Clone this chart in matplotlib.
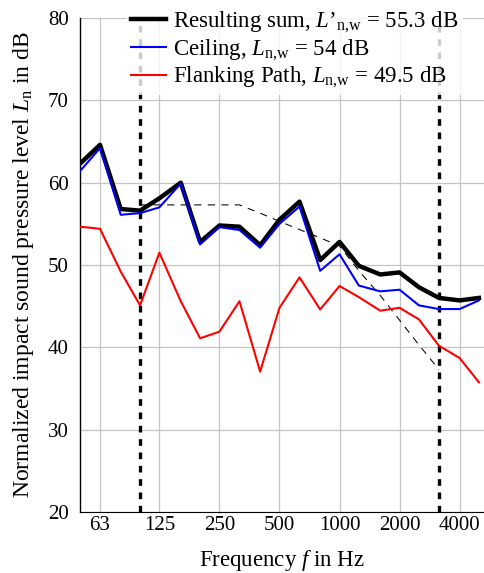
import matplotlib
matplotlib.use("Agg")
import matplotlib.pyplot as plt

plt.rcParams['font.family'] = ['Liberation Serif', 'DejaVu Serif']
plt.rcParams['mathtext.fontset'] = 'custom'
plt.rcParams['mathtext.rm'] = 'Liberation Serif'
plt.rcParams['mathtext.it'] = 'Liberation Serif:italic'

# third-octave bands
freqs = [50, 63, 80, 100, 125, 160, 200, 250, 315, 400, 500, 630, 800,
         1000, 1250, 1600, 2000, 2500, 3150, 4000, 5000]
total = [62.3, 64.6, 56.8, 56.6, 58.1, 60.0, 52.8, 54.8, 54.65, 52.4, 55.5,
         57.7, 50.6, 52.8, 49.9, 48.85, 49.1, 47.3, 46.0, 45.7, 46.0]
ceiling = [61.4, 64.2, 56.1, 56.3, 57.0, 59.9, 52.5, 54.6, 54.25, 52.1, 55.0,
           57.1, 49.3, 51.3, 47.5, 46.8, 47.0, 45.1, 44.65, 44.65, 45.7]
flanking = [54.65, 54.4, 49.2, 45.1, 51.5, 45.6, 41.1, 41.9, 45.6, 37.05, 44.8,
            48.5, 44.6, 47.45, 46.1, 44.45, 44.8, 43.4, 40.2, 38.7, 35.75]

# ISO 717-2 reference curve, shifted to L'n,w = 55.3 dB
ref_freqs = [100, 125, 160, 200, 250, 315, 400, 500, 630, 800, 1000,
             1250, 1600, 2000, 2500, 3150]
ref_values = [62, 62, 62, 62, 62, 62, 61, 60, 59, 58, 57, 54, 51, 48, 45, 42]
ref_shift = 55.3 - 60
ref_curve = [v + ref_shift for v in ref_values]

xticks = [63, 125, 250, 500, 1000, 2000, 4000]

fig = plt.figure(figsize=(4.84, 5.73), dpi=100)
ax = fig.add_axes([80 / 484, 61 / 573, 404 / 484, 494 / 573])

ax.axvline(100, color='black', lw=2.4, ls=(0, (2, 2)), zorder=4)
ax.axvline(3150, color='black', lw=2.4, ls=(0, (2, 2)), zorder=4)
ax.plot(ref_freqs, ref_curve, color='black', lw=0.75, ls=(0, (7, 6)), zorder=3)

ax.plot(freqs, total, color='black', lw=3.2, zorder=5,
        label="Resulting sum, $L$’$_{\\mathrm{n{,}w}}$ = 55.3 dB")
ax.plot(freqs, ceiling, color='blue', lw=1.5, zorder=6,
        label="Ceiling, $L_{\\mathrm{n{,}w}}$ = 54 dB")
ax.plot(freqs, flanking, color='red', lw=1.5, zorder=6,
        label="Flanking Path, $L_{\\mathrm{n{,}w}}$ = 49.5 dB")

ax.set_xscale('log')
ax.set_xlim(50, 5300)
ax.set_ylim(20, 80)
ax.set_xticks(xticks)
ax.set_xticklabels([str(t) for t in xticks])
ax.minorticks_off()
ax.set_yticks(range(20, 81, 10))
ax.tick_params(length=0, labelsize=15)
ax.tick_params(axis='x', pad=3)
ax.tick_params(axis='y', pad=8)
ax.grid(True, color='#c4c4c4', lw=0.9)
ax.set_axisbelow(True)

for s in ['top', 'right']:
    ax.spines[s].set_visible(False)
ax.spines['left'].set_linewidth(1.0)
ax.spines['bottom'].set_linewidth(0.8)

ax.set_xlabel("Frequency $f$ in Hz", fontsize=16.5, labelpad=9)
ax.set_ylabel("Normalized impact sound pressure level $L_{\\mathrm{n}}$ in dB",
              fontsize=17, labelpad=9)

leg = ax.legend(loc='upper right', bbox_to_anchor=(0.977, 1.05), fontsize=16.5,
                frameon=True, fancybox=False, handlelength=1.55,
                handletextpad=0.3, labelspacing=0.12, borderpad=0.2)
leg.get_frame().set_edgecolor('none')
leg.get_frame().set_alpha(0.8)
leg.set_zorder(10)

fig.savefig('out.png', dpi=100)
